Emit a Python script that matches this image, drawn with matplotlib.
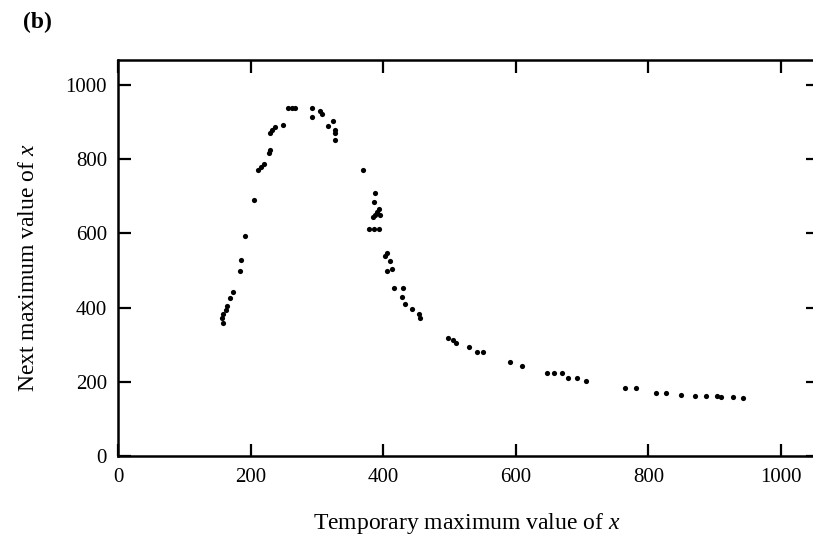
import matplotlib
matplotlib.use("Agg")
import matplotlib.pyplot as plt

# Data (temporary max of x -> next max of x)
x_vals = [256, 262, 267, 292, 292, 304, 308, 324, 316, 327, 327, 328,
          249, 237, 233, 230, 230, 227, 220, 215, 211, 205,
          192, 186, 184, 174, 169, 165, 163, 159, 157, 158,
          369, 388, 386, 394, 391, 388, 395, 384, 378, 386, 394,
          405, 402, 410, 413, 405, 416, 430, 429, 433, 443, 454, 455,
          498, 506, 510, 529, 541, 551, 592, 609, 647, 658, 669, 679, 692,
          706, 765, 781, 812, 827, 849, 870, 887, 903, 910, 927, 943]
y_vals = [938, 938, 938, 939, 914, 929, 921, 903, 889, 880, 870, 852,
          893, 887, 878, 870, 826, 816, 787, 780, 771, 690,
          593, 528, 498, 441, 427, 404, 394, 382, 373, 359,
          771, 710, 684, 667, 657, 650, 650, 645, 611, 611, 611,
          548, 539, 526, 505, 499, 452, 453, 428, 410, 397, 382, 373,
          319, 313, 305, 295, 280, 280, 253, 243, 223, 223, 223, 211, 211,
          203, 182, 182, 170, 170, 164, 163, 163, 163, 158, 158, 157]
x_ticks = [0, 200, 400, 600, 800, 1000]
y_ticks = [0, 200, 400, 600, 800, 1000]
x_label = "Temporary maximum value of $\\mathit{x}$"
y_label = "Next maximum value of $\\mathit{x}$"
panel = "(b)"

plt.rcParams['font.family'] = ['Liberation Serif', 'DejaVu Serif']
plt.rcParams['mathtext.fontset'] = 'custom'
plt.rcParams['mathtext.it'] = 'Liberation Serif:italic'
plt.rcParams['mathtext.rm'] = 'Liberation Serif'

W, H = 813, 537
fig = plt.figure(figsize=(W / 100, H / 100), dpi=100)
left, right, bottom, top = 118, 818, 456, 60
ax = fig.add_axes([left / W, 1 - bottom / H, (right - left) / W, (bottom - top) / H])

ax.scatter(x_vals, y_vals, s=14, c='black', marker='o', linewidths=0)

ax.set_xlim(0, (right - left) / 0.663)
ax.set_ylim(0, (bottom - top) / 0.371)
ax.set_xticks(x_ticks)
ax.set_yticks(y_ticks)
ax.tick_params(axis='both', direction='in', length=9, width=1.6, labelsize=15,
               top=True, right=True, colors='black')
ax.tick_params(axis='x', pad=9)
ax.tick_params(axis='y', pad=8)
for s in ax.spines.values():
    s.set_linewidth(1.8)
    s.set_color('black')
ax.spines['right'].set_visible(False)

fig.text(467 / W, 1 - 523 / H, x_label, ha='center', va='center', fontsize=17)
fig.text(28 / W, 1 - 268 / H, y_label, ha='center', va='center', fontsize=17, rotation=90)
fig.text(23 / W, 1 - 22 / H, panel, ha='left', va='center', fontsize=17, fontweight='bold')

fig.savefig("out.png", dpi=100)
